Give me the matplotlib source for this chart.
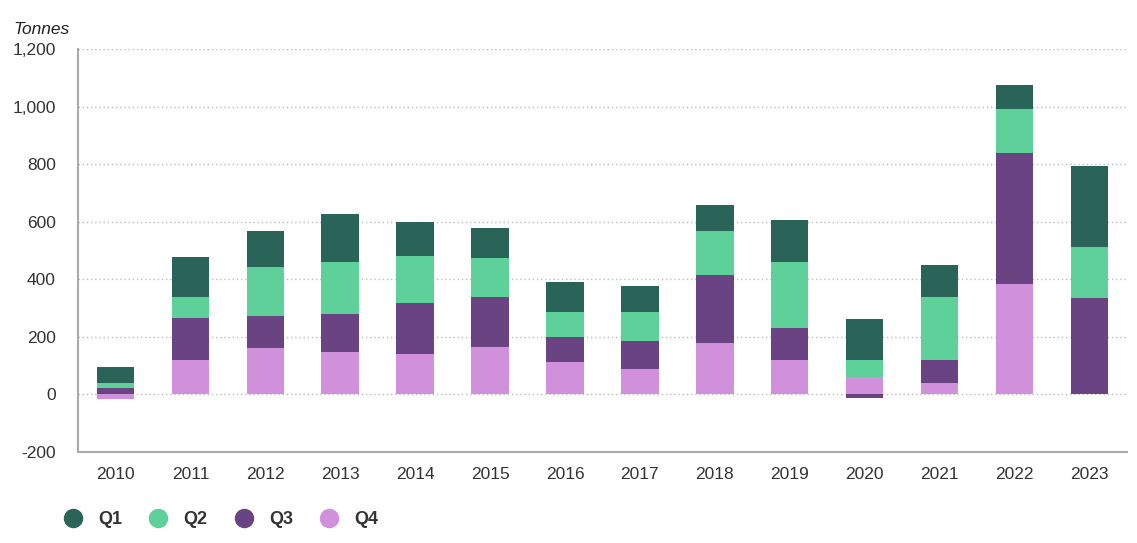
import numpy as np
import matplotlib.pyplot as plt
from matplotlib.lines import Line2D

plt.rcParams['font.family'] = ['Liberation Sans', 'DejaVu Sans']

years = [str(y) for y in range(2010, 2024)]
q1 = [57, 142, 125, 167, 118, 104, 107, 93, 90, 146, 142, 114, 83, 282]
q2 = [15, 70, 173, 183, 166, 138, 87, 98, 153, 229, 61, 216, 155, 177]
q3 = [23, 149, 111, 129, 177, 174, 87, 97, 236, 114, -12, 83, 455, 336]
q4 = [-17, 118, 160, 149, 139, 163, 111, 90, 180, 118, 60, 38, 382, 0]

labels = ['Q1', 'Q2', 'Q3', 'Q4']
colors = ['#2a6458', '#5ed099', '#6a4482', '#d190db']

fig = plt.figure(figsize=(11.37, 5.43), dpi=100)
ax = fig.add_axes([0.0686, 0.1676, 0.9225, 0.7422])

x = np.arange(len(years))
pos = np.zeros(len(years))
neg = np.zeros(len(years))
# stack from the bottom: Q4, Q3, Q2, Q1
for vals, col in zip([q4, q3, q2, q1], [colors[3], colors[2], colors[1], colors[0]]):
    v = np.array(vals, dtype=float)
    bottom = np.where(v >= 0, pos, neg)
    ax.bar(x, v, 0.5, bottom=bottom, color=col, zorder=3)
    pos = pos + np.where(v >= 0, v, 0)
    neg = neg + np.where(v < 0, v, 0)

ax.set_xlim(-0.5, len(years) - 0.5)
ax.set_ylim(-200, 1200)
ax.set_yticks(range(-200, 1201, 200))
ax.set_yticklabels([f'{t:,}' for t in range(-200, 1201, 200)])
ax.set_xticks(x)
ax.set_xticklabels(years)
for t in range(0, 1201, 200):
    ax.axhline(t, color='#bbbbbb', lw=1, ls=(0, (1, 2)), zorder=1)

for s in ['top', 'right']:
    ax.spines[s].set_visible(False)
for s in ['left', 'bottom']:
    ax.spines[s].set_color('#aaaaaa')
    ax.spines[s].set_linewidth(1.5)
ax.tick_params(length=0, labelsize=12.5, colors='#333333', pad=11)
ax.tick_params(axis='y', pad=16)

fig.text(0.012, 0.938, 'Tonnes', style='italic', fontsize=12.5, color='#222222')

handles = [Line2D([], [], marker='o', ls='', markersize=13, color=c) for c in colors]
leg = fig.legend(handles, labels, loc='center left', bbox_to_anchor=(0.034, 0.043),
                 ncol=4, frameon=False, handletextpad=0.4, columnspacing=1.0,
                 prop={'weight': 'bold', 'size': 13})
for t in leg.get_texts():
    t.set_color('#333333')

fig.savefig('out.png', dpi=100)
